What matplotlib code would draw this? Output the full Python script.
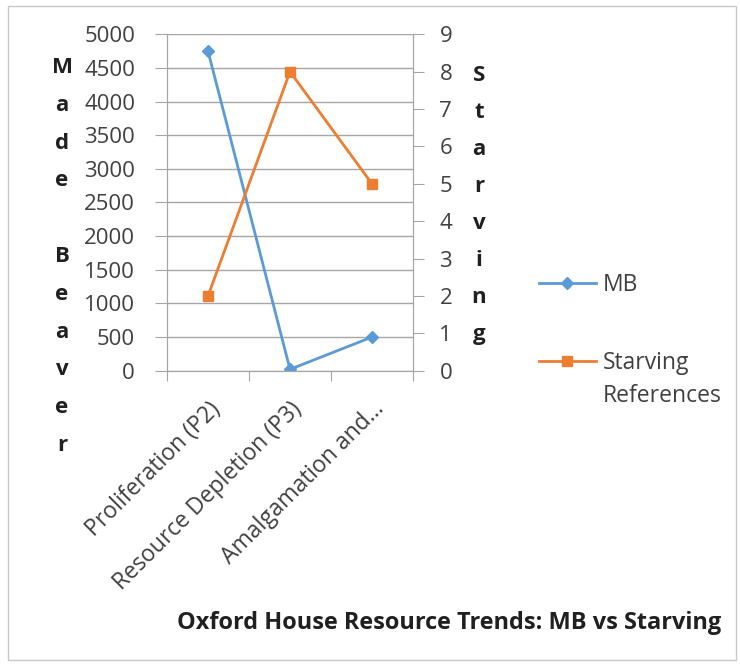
import matplotlib
matplotlib.use("Agg")
import matplotlib.pyplot as plt
from matplotlib.patches import Rectangle

plt.rcParams['font.family'] = ['Open Sans', 'DejaVu Sans']

categories = ['Proliferation (P2)', 'Resource Depletion (P3)', 'Amalgamation and...']
mb = [4750, 20, 500]
starving = [2, 8, 5]

blue = '#5B9BD5'
orange = '#ED7D31'
txt = '#404040'
gridc = '#A6A6A6'

fig = plt.figure(figsize=(7.4, 6.66), dpi=100)
ax = fig.add_axes([0.2257, 0.4434, 0.3324, 0.5051])
ax2 = ax.twinx()

x = range(len(categories))
l1, = ax.plot(x, mb, color=blue, lw=2, marker='D', ms=6, label='MB')
l2, = ax2.plot(x, starving, color=orange, lw=2, marker='s', ms=7, label='Starving')

ax.set_xlim(-0.5, 2.5)
ax.set_ylim(0, 5000)
ax.set_yticks(range(0, 5001, 500))
ax2.set_ylim(0, 9)
ax2.set_yticks(range(0, 10))

ax.set_xticks([-0.5, 0.5, 1.5, 2.5], minor=False)
ax.set_xticklabels([])
ax.set_xticks(list(x), minor=True)
ax.set_xticklabels(categories, minor=True, rotation=45, ha='right',
                   rotation_mode='anchor', fontsize=16.5, color=txt)
ax.tick_params(axis='x', which='minor', length=0, pad=19)
ax.tick_params(axis='x', which='major', length=7, color=gridc, direction='out')

ax.grid(axis='y', color=gridc, lw=1)
ax.set_axisbelow(True)
ax.tick_params(axis='y', labelsize=16, labelcolor=txt, length=9, color=gridc, pad=14)
ax2.tick_params(axis='y', labelsize=16, labelcolor=txt, length=8, color=gridc, pad=11)

for a in (ax, ax2):
    a.spines['top'].set_visible(False)
    for s in ('left', 'bottom', 'right'):
        a.spines[s].set_color(gridc)

fig.text(62 / 740, 1 - 57 / 666, 'M\na\nd\ne\n\nB\ne\na\nv\ne\nr', ha='center', va='top',
         fontsize=16, fontweight='bold', color='#202020', linespacing=2.05)
fig.text(479 / 740, 1 - 65 / 666, 'S\nt\na\nr\nv\ni\nn\ng', ha='center', va='top',
         fontsize=16, fontweight='bold', color='#202020', linespacing=2.0)

leg = fig.legend(handles=[l1, l2], loc='center left', bbox_to_anchor=(518 / 740, 1 - 324 / 666),
                 frameon=False, fontsize=16.5, labelspacing=2.36, handlelength=2.5,
                 handletextpad=0.3, labelcolor=txt)
fig.text(603 / 740, 1 - 396 / 666, 'References', ha='left', va='center',
         fontsize=16.5, color=txt)

fig.text(449 / 740, 1 - 623 / 666, 'Oxford House Resource Trends: MB vs Starving',
         ha='center', va='center', fontsize=16.9, fontweight='bold', color='#202020')

fig.patches.append(Rectangle((8 / 740, 1 - 660 / 666), 728 / 740, 654 / 666,
                             transform=fig.transFigure, fill=False, ec='#C8C8C8', lw=1))

fig.savefig('out.png', dpi=100)
